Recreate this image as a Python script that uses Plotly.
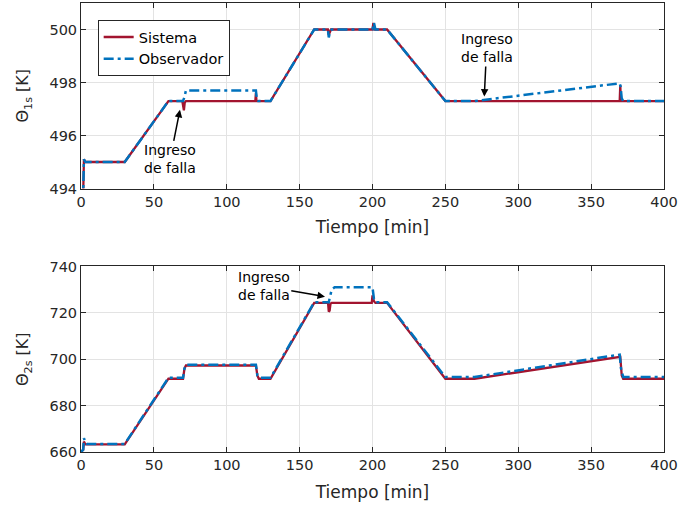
import plotly.graph_objects as go
from plotly.subplots import make_subplots

# Θ1s : breakpoints (time [min], temperature [K])
t1_sis = [0, 1.5, 2, 3, 30, 60, 69.5, 70, 70.6, 71.2, 72, 119.6, 120, 120.4, 130, 160,
          169.4, 170, 170.6, 171.5, 200, 200.6, 201.6, 210, 250, 369.6, 370, 370.4, 400]
y1_sis = [493.5, 493.8, 495.1, 495.0, 495.0, 497.3, 497.3, 497.0, 496.95, 497.25, 497.3, 497.3, 497.6, 497.3, 497.3, 500.0,
          500.0, 499.8, 499.9, 500.0, 500.0, 500.25, 500.0, 500.0, 497.3, 497.3, 497.9, 497.3, 497.3]

t1_obs = [0, 1.5, 2, 3, 30, 60, 70, 71, 72, 120, 120.6, 121.6, 130, 160,
          169.4, 170, 171, 172, 200, 201, 202, 210, 250, 270, 369.6, 370.2, 371, 372, 400]
y1_obs = [493.5, 493.8, 495.1, 495.0, 495.0, 497.3, 497.3, 497.45, 497.7, 497.7, 497.4, 497.3, 497.3, 500.0,
          500.0, 499.7, 499.95, 500.0, 500.0, 500.25, 500.0, 500.0, 497.3, 497.3, 497.97, 497.85, 497.4, 497.3, 497.3]

# Θ2s : breakpoints (time [min], temperature [K])
t2_sis = [0, 1.5, 2, 3, 30, 60, 70, 71, 72, 120, 121, 122, 130, 160,
          169.5, 170, 170.6, 171.2, 172, 199.5, 200, 201, 202, 210, 250, 270, 370, 371, 372, 400]
y2_sis = [660, 661, 664.5, 663.3, 663.3, 691.6, 691.6, 696, 697.3, 697.3, 693, 691.6, 691.6, 724.3,
          724.3, 720.5, 721, 724, 724.3, 724.3, 727.5, 725, 724.3, 724.3, 691.6, 691.6, 701.0, 693, 691.6, 691.6]

t2_obs = [0, 1.5, 2, 3, 4, 30, 60, 70, 71, 72, 120, 121, 122.5, 130, 160,
          170, 170.5, 172, 174, 200, 201, 202, 210, 250, 270, 369.6, 370.5, 372, 400]
y2_obs = [660, 661, 666, 664, 663.5, 663.5, 692, 692, 696, 697.6, 697.6, 693, 692, 692, 724.6,
          724.6, 726, 730, 731, 731, 726, 724.6, 724.6, 692.3, 692.3, 702, 696, 692.3, 692.3]

x_ticks = [0, 50, 100, 150, 200, 250, 300, 350, 400]
y1_ticks = [494, 496, 498, 500]
y2_ticks = [660, 680, 700, 720, 740]

RED = "#A2142F"
BLUE = "#0072BD"
INK = "#262626"
FONT = "DejaVu Sans"
DASH = "10px,4px,3px,4px"

fig = make_subplots(rows=2, cols=1, vertical_spacing=0.1737)

fig.add_trace(go.Scatter(x=t1_sis, y=y1_sis, mode="lines", name="Sistema",
                         line=dict(color=RED, width=2.3)), row=1, col=1)
fig.add_trace(go.Scatter(x=t1_obs, y=y1_obs, mode="lines", name="Observador",
                         line=dict(color=BLUE, width=2.5, dash=DASH)), row=1, col=1)
fig.add_trace(go.Scatter(x=t2_sis, y=y2_sis, mode="lines", name="Sistema", showlegend=False,
                         line=dict(color=RED, width=2.3)), row=2, col=1)
fig.add_trace(go.Scatter(x=t2_obs, y=y2_obs, mode="lines", name="Observador", showlegend=False,
                         line=dict(color=BLUE, width=2.5, dash=DASH)), row=2, col=1)

axis_common = dict(showline=True, linecolor=INK, linewidth=1, mirror="ticks",
                   ticks="inside", ticklen=5, tickcolor=INK, showgrid=True,
                   gridcolor="#e3e3e3", gridwidth=1, zeroline=False, automargin=False,
                   tickfont=dict(family=FONT, size=14.5, color=INK))

for r, so in ((1, 12), (2, 13)):
    fig.update_xaxes(range=[0, 400], tickvals=x_ticks,
                     title=dict(text="Tiempo [min]", font=dict(family=FONT, size=17, color=INK), standoff=so),
                     row=r, col=1, **axis_common)

fig.update_yaxes(range=[494, 501], tickvals=y1_ticks,
                 title=dict(text="Θ<sub>1s</sub> [K]", font=dict(family=FONT, size=16, color=INK), standoff=16),
                 row=1, col=1, **axis_common)
fig.update_yaxes(range=[660, 740], tickvals=y2_ticks,
                 title=dict(text="Θ<sub>2s</sub> [K]", font=dict(family=FONT, size=16, color=INK), standoff=16),
                 row=2, col=1, **axis_common)

ann_font = dict(family=FONT, size=14, color="#000000")
arrow = dict(showarrow=True, arrowhead=2, arrowsize=1, arrowwidth=1.5, arrowcolor="#000000",
             font=ann_font, align="center", text="Ingreso<br>de falla")
annotations = [
    # top panel, first fault
    dict(x=67.9, y=496.97, ax=61.1, ay=495.1, xref="x", yref="y", axref="x", ayref="y", **arrow),
    # top panel, second fault
    dict(x=276.7, y=497.47, ax=278.3, ay=499.3, xref="x", yref="y", axref="x", ayref="y", **arrow),
    # bottom panel fault
    dict(x=167.4, y=727.0, ax=125.4, ay=731.6, xref="x2", yref="y2", axref="x2", ayref="y2", **arrow),
]

fig.update_layout(
    width=678, height=506,
    margin=dict(l=81, r=14, t=3, b=54, autoexpand=False),
    paper_bgcolor="white", plot_bgcolor="white",
    font=dict(family=FONT, color=INK),
    annotations=annotations,
    legend=dict(x=0.0286, y=0.962, xanchor="left", yanchor="top",
                bgcolor="white", bordercolor=INK, borderwidth=1,
                font=dict(family=FONT, size=14.5, color="#000000"),
                tracegroupgap=0, itemwidth=30),
)

fig.write_html("out.html")
